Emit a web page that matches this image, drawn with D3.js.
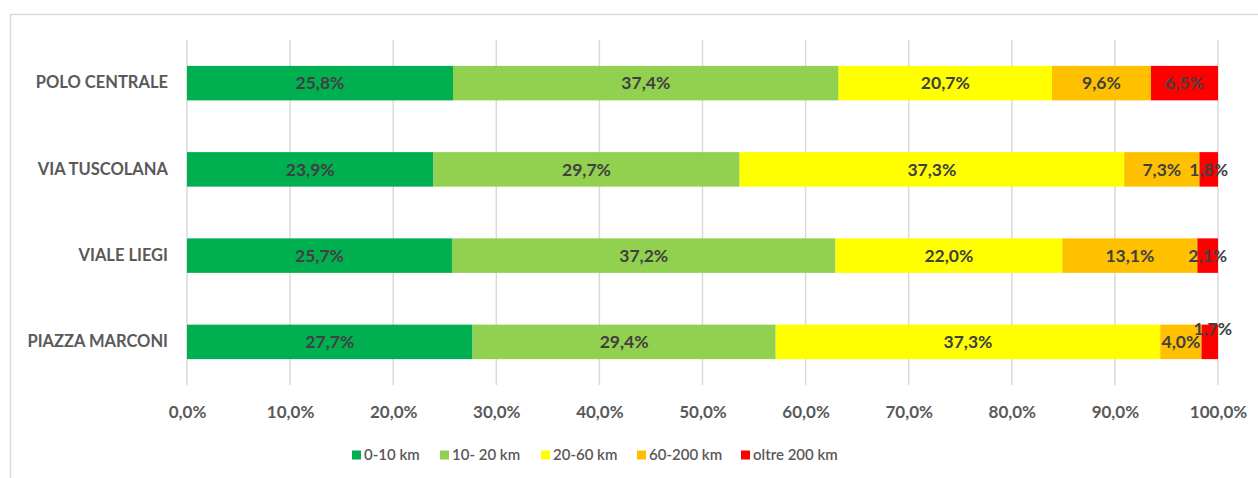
<!DOCTYPE html>
<html>
<head>
<meta charset="utf-8">
<script src="https://cdn.jsdelivr.net/npm/d3@7"></script>
<style>
  html, body { margin: 0; padding: 0; background: #fff; }
  svg { display: block; }
</style>
</head>
<body>
<svg id="chart" width="1258" height="478"></svg>
<script>
// Sedi (dall'alto verso il basso)
const categories = ["POLO CENTRALE", "VIA TUSCOLANA", "VIALE LIEGI", "PIAZZA MARCONI"];
// Fasce di distanza
const seriesNames = ["0-10 km", "10- 20 km", "20-60 km", "60-200 km", "oltre 200 km"];
// Quote percentuali per fascia, una riga per sede
const share0to10 = [25.8, 23.9, 25.7, 27.7];
const share10to20 = [37.4, 29.7, 37.2, 29.4];
const share20to60 = [20.7, 37.3, 22.0, 37.3];
const share60to200 = [9.6, 7.3, 13.1, 4.0];
const shareOver200 = [6.5, 1.8, 2.1, 1.7];
// Etichette dell'asse orizzontale
const tickValues = [0, 10, 20, 30, 40, 50, 60, 70, 80, 90, 100];

const seriesValues = [share0to10, share10to20, share20to60, share60to200, shareOver200];
const colors = ["#00B050", "#92D050", "#FFFF00", "#FFC000", "#FF0000"];

// Piccolo spostamento per l'etichetta che non entra nel segmento
const labelNudge = { "PIAZZA MARCONI|oltre 200 km": [3, -13] };

const fmt = v => v.toFixed(1).replace(".", ",") + "%";
const FONT = "Lato, 'Open Sans', sans-serif";

const svg = d3.select("#chart");

// Cornice dell'area grafico
svg.append("rect")
  .attr("x", 10.5).attr("y", 14.5)
  .attr("width", 1270).attr("height", 480)
  .attr("fill", "none")
  .attr("stroke", "#D9D9D9")
  .attr("stroke-width", 1.5);

const x = d3.scaleLinear().domain([0, 100]).range([187, 1218]);
const y = d3.scaleBand().domain(categories).range([40, 385])
  .paddingInner(0.6).paddingOuter(0.3);

// Griglia verticale
svg.append("g").selectAll("line")
  .data(tickValues)
  .join("line")
  .attr("x1", d => x(d)).attr("x2", d => x(d))
  .attr("y1", 40).attr("y2", 385)
  .attr("stroke", "#D9D9D9")
  .attr("stroke-width", 1.5);

// Asse X (solo etichette)
const xAxis = svg.append("g")
  .attr("transform", "translate(0,418)")
  .call(d3.axisBottom(x).tickValues(tickValues).tickSize(0).tickPadding(0).tickFormat(d => fmt(d)));
xAxis.select(".domain").remove();
xAxis.selectAll("text")
  .attr("y", 0)
  .attr("dy", "0")
  .attr("font-family", FONT)
  .attr("font-weight", "bold")
  .attr("font-size", 17)
  .attr("fill", "#595959");

// Asse Y (etichette delle sedi)
const yAxis = svg.append("g")
  .attr("transform", "translate(168,0)")
  .call(d3.axisLeft(y).tickSize(0).tickPadding(0));
yAxis.select(".domain").remove();
yAxis.selectAll("text")
  .attr("font-family", FONT)
  .attr("font-weight", "bold")
  .attr("font-size", 16.5)
  .attr("fill", "#595959");

// Dati impilati
const rows = categories.map((c, i) => {
  const r = { cat: c };
  seriesNames.forEach((s, j) => { r[s] = seriesValues[j][i]; });
  return r;
});
const stacked = d3.stack().keys(seriesNames)(rows);

const layers = svg.append("g").selectAll("g")
  .data(stacked)
  .join("g")
  .attr("fill", (d, i) => colors[i]);

layers.selectAll("rect")
  .data(d => d)
  .join("rect")
  .attr("x", d => x(d[0]))
  .attr("width", d => x(Math.min(d[1], 100)) - x(d[0]))
  .attr("y", d => y(d.data.cat))
  .attr("height", y.bandwidth());

// Etichette dei valori
const labels = svg.append("g");
stacked.forEach(layer => {
  layer.forEach(d => {
    const key = d.data.cat + "|" + layer.key;
    const n = labelNudge[key] || [0, 0];
    const cx = (x(d[0]) + x(Math.min(d[1], 100))) / 2 + n[0];
    const cy = y(d.data.cat) + y.bandwidth() / 2 + n[1];
    labels.append("text")
      .attr("x", cx).attr("y", cy)
      .attr("dy", "0.36em")
      .attr("text-anchor", "middle")
      .attr("font-family", FONT)
      .attr("font-weight", "bold")
      .attr("font-size", 17.5)
      .attr("fill", "#404040")
      .text(fmt(d.data[layer.key]));
  });
});

// Legenda
const legendX = [352, 440, 541, 637, 741];
const legend = svg.append("g").selectAll("g")
  .data(seriesNames)
  .join("g")
  .attr("transform", (d, i) => `translate(${legendX[i]},455)`);
legend.append("rect")
  .attr("x", 0).attr("y", -4.5)
  .attr("width", 9).attr("height", 9)
  .attr("fill", (d, i) => colors[i]);
legend.append("text")
  .attr("x", 12).attr("y", 0)
  .attr("dy", "0.36em")
  .attr("font-family", FONT)
  .attr("font-weight", 600)
  .attr("font-size", 15)
  .attr("fill", "#595959")
  .text(d => d);
</script>
</body>
</html>
